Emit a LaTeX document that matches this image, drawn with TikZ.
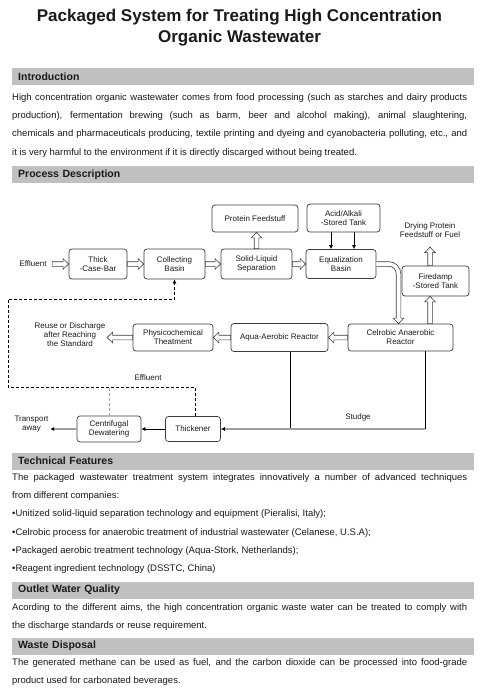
\documentclass[tikz,border=0pt]{standalone}
\usepackage{fontspec}
\setmainfont{Liberation Sans}
\usetikzlibrary{arrows.meta,calc}
\definecolor{cbanda}{HTML}{C0C0C0}
\definecolor{cborde}{HTML}{3C3C3C}
\definecolor{cgrisl}{HTML}{A0A0A0}
\definecolor{ctexto}{HTML}{1A1A1A}
\tikzset{
  tit/.style={font=\fontsize{17}{21.7}\selectfont\bfseries,align=center,inner sep=0pt,anchor=north},
  banda/.style={anchor=north west,fill=cbanda,minimum width=462pt,minimum height=17pt,
                text width=450pt,inner xsep=6pt,inner ysep=0pt,
                font=\fontsize{10.5}{12}\selectfont\bfseries},
  parrafo/.style={anchor=north west,text width=455pt,align=justify,inner sep=0pt,
                  font=\fontsize{9.5}{18.2}\selectfont},
  caja/.style={draw=cborde,line width=0.7pt,rounded corners=3pt,align=center,
               inner sep=1pt,font=\fontsize{8}{9}\selectfont},
  et/.style={font=\fontsize{8}{9}\selectfont,align=center,inner sep=1.5pt},
  % flecha hueca (contorno de flecha gruesa)
  hueca/.style={draw=cborde,line width=0.6pt,fill=white,line join=miter},
  flechah/.style={hueca,
    to path={let \p1=(\tikztostart),\p2=(\tikztotarget),\p3=($(\p2)!5.5pt!(\p1)$) in
      ($(\p1)!2.3pt!90:(\p2)$) -- ($(\p3)!2.3pt!90:(\p2)$) -- ($(\p3)!5.25pt!90:(\p2)$)
      -- (\p2) -- ($(\p3)!5.25pt!-90:(\p2)$) -- ($(\p3)!2.3pt!-90:(\p2)$)
      -- ($(\p1)!2.3pt!-90:(\p2)$) -- cycle}},
  flecha/.style={draw=black,line width=0.7pt,-{Latex[length=4pt,width=4pt]}},
  flechag/.style={draw=cgrisl,line width=1.4pt,-{Latex[length=4pt,width=4pt,color=black]}},
  linea/.style={draw=black,line width=0.7pt},
  retorno/.style={flecha,dash pattern=on 3pt off 2pt},
  retornog/.style={draw=cgrisl,line width=0.8pt,dash pattern=on 3pt off 2pt},
}
\begin{document}
\begin{tikzpicture}[x=1pt,y=-1pt,color=ctexto]
\useasboundingbox (0,0) rectangle (488,696);

\node[tit] (titulo) at (239.5,8.6) {Packaged System for Treating High Concentration\\Organic Wastewater};

% introduccion
\node[banda] (b1) at (12,68) {Introduction};
\node[parrafo] (intro) at (12,93.5) {High concentration organic wastewater comes from food processing (such as starches and dairy products\linebreak
  production), fermentation brewing (such as barm, beer and alcohol making), animal slaughtering,\linebreak
  chemicals and pharmaceuticals producing, textile printing and dyeing and cyanobacteria polluting, etc., and\linebreak
  it is very harmful to the environment if it is directly discarged without being treated.};

% proceso
\node[banda] (b2) at (12,166) {Process Description};

\node[et] (efl) at (33,264) {Effluent};
\node[caja,minimum width=58pt,minimum height=30pt] (rejilla) at (98,264) {Thick\\-Case-Bar};
\node[caja,minimum width=61pt,minimum height=30pt] (colec) at (174.5,264) {Collecting\\Basin};
\node[caja,minimum width=71pt,minimum height=30pt] (separ) at (256.5,264) {Solid-Liquid\\Separation};
\node[caja,minimum width=86pt,minimum height=27pt] (prot) at (255,218.5) {Protein Feedstuff};
\node[caja,minimum width=73pt,minimum height=28pt] (acido) at (343.5,218) {Acid/Alkali\\-Stored Tank};
\node[caja,minimum width=70pt,minimum height=29pt] (igual) at (341,264) {Equalization\\Basin};
\node[et] (secado) at (430,230) {Drying Protein\\Feedstuff or Fuel};
\node[caja,minimum width=67pt,minimum height=30pt] (gas) at (435.5,281) {Firedamp\\-Stored Tank};
\node[caja,minimum width=105pt,minimum height=27pt] (anaer) at (400.5,337.5) {Celrobic Anaerobic\\Reactor};
\node[caja,minimum width=97pt,minimum height=28pt] (aerob) at (279.5,337.5) {Aqua-Aerobic Reactor};
\node[caja,minimum width=80pt,minimum height=27pt] (fisq) at (173,337.5) {Physicochemical\\Theatment};
\node[et] (reuso) at (70,335) {Reuse or Discharge\\after Reaching\\the Standard};
\node[caja,minimum width=64pt,minimum height=26pt] (centri) at (109,429) {Centrifugal\\Dewatering};
\node[caja,minimum width=55pt,minimum height=25pt] (espes) at (193,429) {Thickener};
\node[et] (transp) at (31.5,424.5) {Transport\\away};
\node[et] (efl2) at (148,378) {Effluent};
\node[et] (lodo) at (358,417) {Studge};

\coordinate (g1) at (430,0);
\coordinate (d1) at (8,387);
\coordinate (d2) at (8,299);
\coordinate (s1) at (425,429);

\draw[flechah] ([xshift=4pt]efl.east) to (rejilla.west);
\draw[flechah] (rejilla.east) to (colec.west);
\draw[flechah] (colec.east) to (separ.west);
\draw[flechah] (separ.east) to (igual.west);
\draw[flechah] (separ.north) to (separ.north |- prot.south);
\draw[flecha] ([xshift=-12.5pt]acido.south) -- ([xshift=-12.5pt]acido.south |- igual.north);
\draw[flecha] ([xshift=10.5pt]acido.south) -- ([xshift=10.5pt]acido.south |- igual.north);
% flecha hueca curva hacia el reactor anaerobio
\draw[hueca] let \p1=(igual.east), \p2=([xshift=-2pt]anaer.north) in
  (\x1,\y1+2.3pt) -- (\x2+2.3pt-12pt,\y1+2.3pt) arc[start angle=90,end angle=0,radius=12pt]
  -- (\x2+2.3pt,\y2+5.5pt) -- (\x2+5.25pt,\y2+5.5pt) -- (\x2,\y2) -- (\x2-5.25pt,\y2+5.5pt)
  -- (\x2-2.3pt,\y2+5.5pt) -- (\x2-2.3pt,\y1-2.3pt-7.4pt) arc[start angle=0,end angle=90,radius=7.4pt]
  -- (\x1,\y1-2.3pt);
\draw[flechah] (anaer.north -| g1) to (gas.south -| g1);
\draw[flechah] (gas.north -| g1) to ([yshift=-8pt]secado.south);
\draw[flechah] (anaer.west) to (aerob.east);
\draw[flechah] (aerob.west) to (fisq.east);
\draw[flechah] (fisq.west) to (fisq.west -| reuso.east);

\draw[retorno] ([xshift=2pt]espes.north) |- (d1) -- (d2) -| (colec.south);
\draw[retornog] (centri.north) -- (centri.north |- d1);

\draw[linea] ([xshift=11pt]aerob.south) -- ([xshift=11pt]aerob.south |- s1);
\draw[linea] (anaer.south -| s1) -- (s1);
\draw[flechag,line width=1.6pt] (s1) -- (espes);
\draw[flecha] (espes) -- (centri);
\draw[flechag] (centri.west) -- (centri.west -| transp.east);

% caracteristicas
\node[banda] (b3) at (12,452.5) {Technical Features};
\node[parrafo] (tecn) at (12,473.5) {The packaged wastewater treatment system integrates innovatively a number of advanced techniques\linebreak
  from different companies:\\
  \textbullet Unitized solid-liquid separation technology and equipment (Pieralisi, Italy);\\
  \textbullet Celrobic process for anaerobic treatment of industrial wastewater (Celanese, U.S.A);\\
  \textbullet Packaged aerobic treatment technology (Aqua-Stork, Netherlands);\\
  \textbullet Reagent ingredient technology (DSSTC, China)};

\node[banda] (b4) at (12,581.5) {Outlet Water Quality};
\node[parrafo] (salida) at (12,603) {Acording to the different aims, the high concentration organic waste water can be treated to comply with\linebreak
  the discharge standards or reuse requirement.};

\node[banda] (b5) at (12,637.5) {Waste Disposal};
\node[parrafo] (residuo) at (12,658.5) {The generated methane can be used as fuel, and the carbon dioxide can be processed into food-grade\linebreak
  product used for carbonated beverages.};

\end{tikzpicture}
\end{document}
